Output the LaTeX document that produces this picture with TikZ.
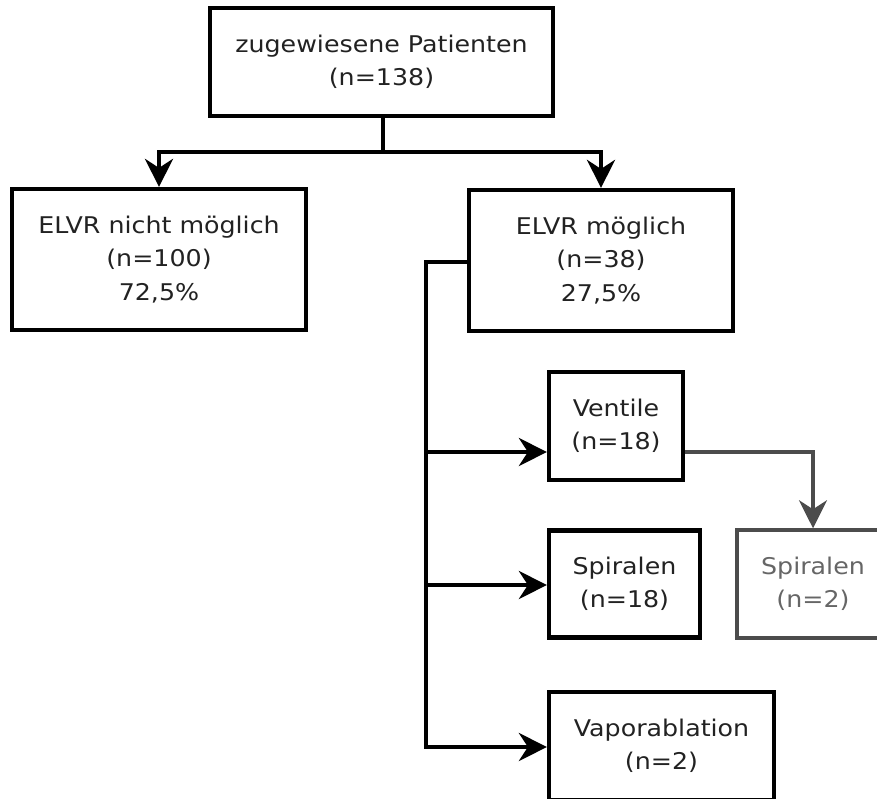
\documentclass[tikz,border=0pt]{standalone}
\usepackage{fontspec}
\setmainfont{DejaVu Sans}[FakeStretch=1.1]
\usetikzlibrary{arrows.meta}
\definecolor{txt}{HTML}{222222}
\definecolor{gline}{HTML}{4C4C4C}
\definecolor{gtxt}{HTML}{666666}
\tikzset{
  box/.style={draw=black, line width=4.2pt, rectangle, align=center, text=txt,
    font=\fontsize{23}{33.5}\selectfont, inner sep=0pt},
  gbox/.style={box, draw=gline, line width=3.5pt, text=gtxt},
  tipstyle/.style={-{Stealth[length=28pt,width=28pt,inset=9pt]}},
  conn/.style={line width=4.2pt, draw=black, tipstyle},
  gconn/.style={line width=3.5pt, draw=gline, tipstyle},
  plain/.style={line width=4.2pt, draw=black}
}
\begin{document}
\begin{tikzpicture}[x=1pt,y=-1pt]
\useasboundingbox (0,0) rectangle (877,798);
\fill[white] (0,0) rectangle (877,798);
\node[box, minimum width=343pt, minimum height=108pt] (top) at (381.5,62) {zugewiesene Patienten\\(n=138)};
\node[box, minimum width=294pt, minimum height=141pt] (left) at (159,259.5) {ELVR nicht möglich\\(n=100)\\72,5\%};
\node[box, minimum width=264pt, minimum height=141pt] (right) at (601,260.5) {ELVR möglich\\(n=38)\\27,5\%};
\node[box, minimum width=134pt, minimum height=108pt] (vent) at (616,426) {Ventile\\(n=18)};
\node[box, minimum width=151pt, minimum height=107pt] (spir) at (624.5,584) {Spiralen\\(n=18)};
\node[gbox, minimum width=152pt, minimum height=108pt] (spir2) at (813,584) {Spiralen\\(n=2)};
\node[box, minimum width=225pt, minimum height=108pt] (vapo) at (661.5,746) {Vaporablation\\(n=2)};
\coordinate (split) at (383,152);
\coordinate (tjoin) at (426,262);
\coordinate (tend) at (426,747);
\draw[plain] (top.south -| split) -- (split);
\draw[conn] (split) -| (left.north);
\draw[conn] (split) -| (right.north);
\draw[conn, line join=miter] (right.west |- tjoin) -- (tjoin) -- (tend) -- (vapo.west |- tend);
\draw[conn] (426,452) -- (vent.west |- 0,452);
\draw[conn] (426,585) -- (spir.west |- 0,585);
\draw[gconn] (vent.east |- 0,452) -| (spir2.north);
\end{tikzpicture}
\end{document}
